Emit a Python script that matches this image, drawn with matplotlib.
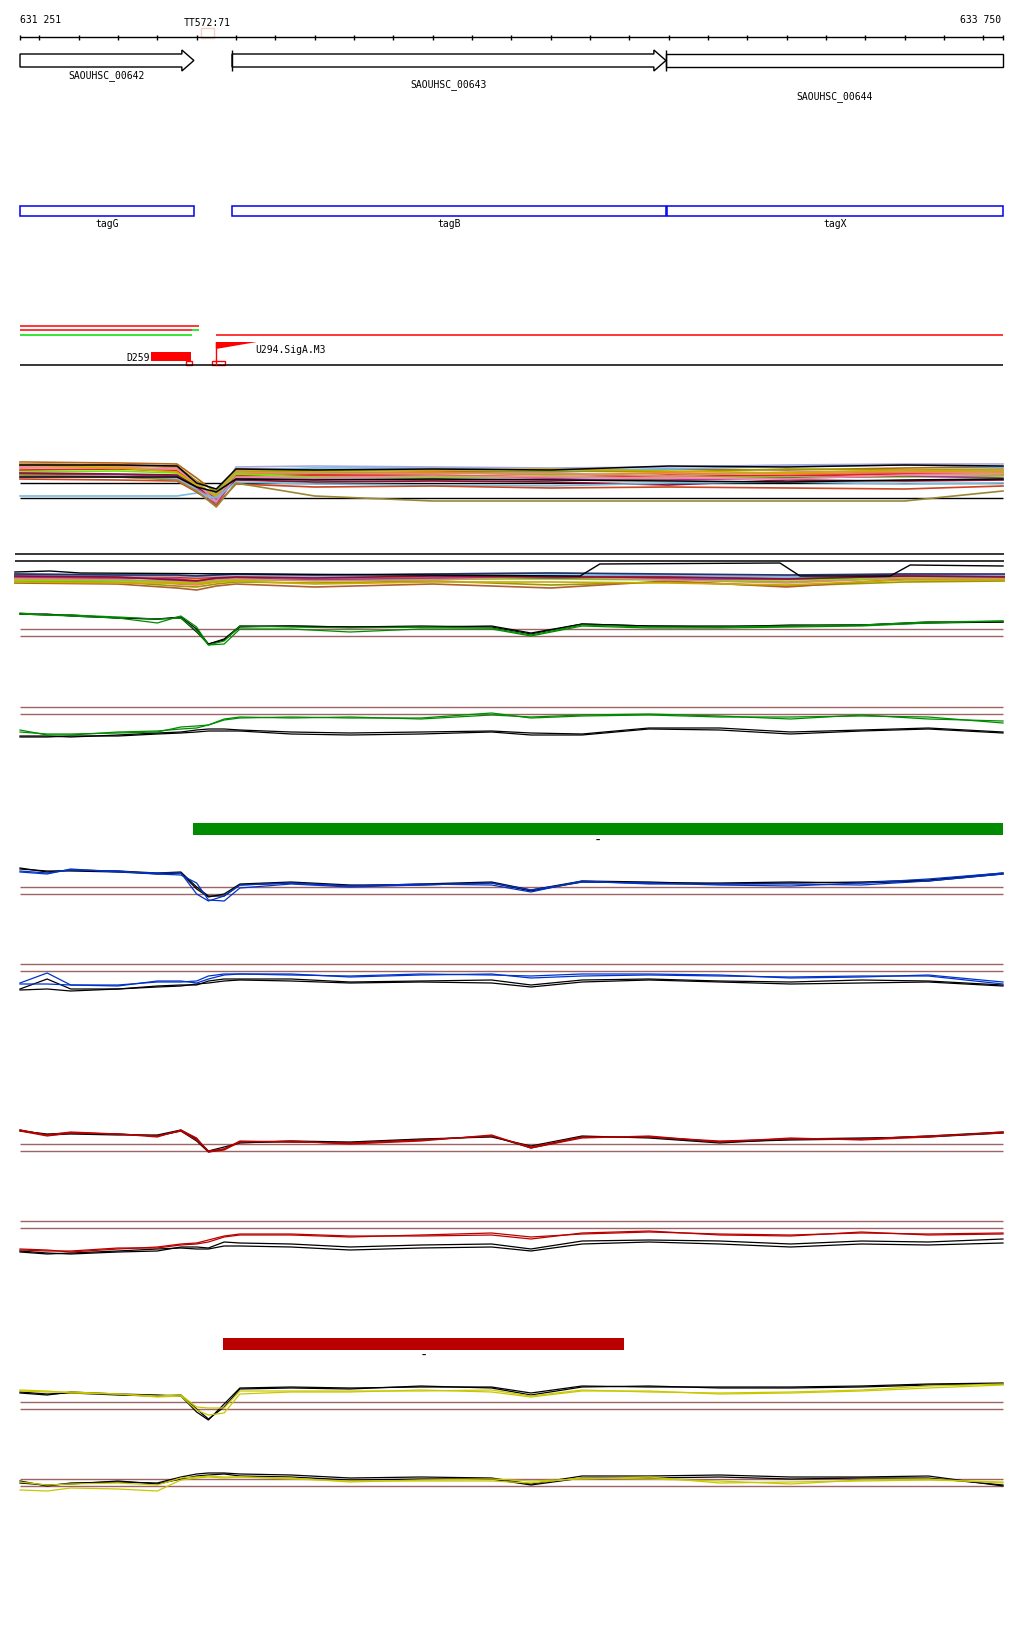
"""Genome browser view of the tagG / tagB / tagX locus, expression tracks below."""

import matplotlib

matplotlib.use("Agg")
import matplotlib.pyplot as plt
from matplotlib.patches import Polygon, Rectangle

# ---- window -------------------------------------------------------------
WIN_START = 631251
WIN_END = 633750
ruler_ticks = list(range(631300, 633701, 100))

# ---- annotation -----------------------------------------------------------
gene_names = ["SAOUHSC_00642", "SAOUHSC_00643", "SAOUHSC_00644"]
gene_starts = [631251, 631790, 632893]
gene_ends = [631693, 632893, 633750]
cds_names = ["tagG", "tagB", "tagX"]
cds_starts = [631251, 631790, 632896]
cds_ends = [631693, 632893, 633750]

term_label = "TT572:71"
term_start, term_end = 631711, 631744

# read segments above the TSS row
seg_starts = [631251, 631251, 631687, 631251, 631749]
seg_ends = [631705, 631687, 631705, 631687, 633750]
seg_colors = ["#ff0000", "#ff0000", "#00dd00", "#00dd00", "#ff0000"]
seg_rows = [0, 1, 1, 2, 2]

d259_start, d259_end = 631584, 631686
d259_box = (631673, 631688)
sig_pos = 631749
sig_flag_end = 631853
sig_box = (631739, 631772)

green_bar = (631691, 633750)
red_bar = (631767, 632786)

# ---- multi-sample track (top) --------------------------------------------
MC_KNOTS = [631251, 631500, 631650, 631700, 631750, 631800, 632000,
            632300, 632600, 632900, 633200, 633500, 633750]
mc_a_colors = ["#b5651d", "#9a9a00", "#f08030", "#f07860", "#e02020", "#66ee00",
               "#aa3399", "#66bbee", "#aaaadd", "#881133", "#cc9966", "#ee88aa",
               "#ccaa00", "#77bbdd", "#cc4422", "#998833"]
mc_a_values = [
    [4.2, 4.0, 3.8, 1.0, -2.0, 2.8, 2.6, 2.4, 2.2, 2.8, 2.6, 3.0, 3.2],
    [3.8, 3.6, 3.4, 0.4, -1.6, 2.4, 2.2, 2.0, 2.4, 2.2, 2.8, 2.6, 2.8],
    [3.4, 3.8, 3.0, 0.0, -3.0, 2.0, 1.8, 2.2, 1.6, 2.0, 1.8, 2.2, 2.4],
    [3.0, 3.2, 2.6, -0.4, -4.6, 1.6, 1.4, 1.2, 1.8, 1.2, 1.6, 2.0, 2.0],
    [2.6, 2.8, 2.4, -0.2, -3.4, 1.4, 1.6, 1.6, 1.0, 1.6, 1.4, 1.8, 1.6],
    [2.2, 2.4, 2.0, -0.6, -2.6, 1.8, 1.2, 1.0, 1.4, 0.8, 1.2, 1.2, 1.4],
    [1.8, 1.6, 1.4, -1.2, -4.0, 1.0, 0.8, 0.6, 0.8, 0.6, 1.0, 1.4, 1.0],
    [1.4, 1.2, 0.8, -1.0, -2.2, 2.6, 3.0, 3.0, 2.6, 2.8, 3.4, 3.6, 3.2],
    [1.2, 1.4, 1.0, -1.4, -3.8, 3.2, 3.4, 3.2, 3.0, 3.2, 3.6, 3.8, 3.8],
    [2.0, 1.8, 1.6, -0.8, -3.2, 0.6, 0.2, 0.4, 0.2, -0.4, 0.6, 0.4, 0.6],
    [4.0, 3.4, 3.2, 0.2, -2.8, 2.2, 2.0, 1.8, 2.0, 1.4, 2.2, 2.4, 2.6],
    [3.2, 3.0, 2.8, -0.2, -3.6, 1.2, 1.0, 1.4, 1.2, 1.0, 0.8, 1.6, 1.8],
    [3.6, 3.0, 2.2, -0.4, -2.4, 2.6, 2.4, 2.6, 2.8, 2.4, 2.0, 2.6, 2.2],
    [-2.6, -2.6, -2.6, -2.0, -3.0, 0.2, -0.2, -0.4, -0.6, 0.0, 0.2, -0.2, 0.0],
    [0.8, 0.6, 0.4, -1.8, -4.4, -0.2, -0.8, -0.6, -1.0, -0.8, -1.0, -1.2, -0.6],
    [1.6, 1.2, 0.6, -1.6, -4.8, 0.0, -2.6, -3.6, -3.6, -3.6, -3.6, -3.6, -1.6],
]
mc_a_black = [
    [3.6, 3.6, 3.4, 0.0, -1.2, 2.8, 2.6, 2.8, 2.6, 3.4, 3.2, 3.6, 3.4],
    [1.2, 1.2, 1.2, -0.8, -1.8, 0.8, 0.6, 0.8, 0.6, 0.4, 0.2, 0.6, 0.8],
]
mc_a_refs = [0.0, -3.0]

# ---- multi-sample track (second) -------------------------------------------
MC_B_KNOTS = [631238, 631500, 631650, 631700, 631750, 631800, 632000,
              632300, 632600, 632900, 633200, 633500, 633753]
mc_b_colors = ["#f08030", "#9a9a00", "#f07860", "#e02020", "#66bbee", "#66ee00",
               "#aa3399", "#b06030", "#cc9966", "#aaaadd", "#ccaa00", "#881133",
               "#223366"]
mc_b_values = [
    [-3.0, -3.2, -3.4, -3.6, -3.4, -3.2, -3.4, -3.2, -3.0, -3.2, -3.4, -3.0, -3.2],
    [-4.0, -4.2, -5.0, -5.2, -4.6, -4.2, -4.4, -4.0, -4.8, -4.2, -5.0, -4.2, -4.0],
    [-3.4, -3.6, -4.6, -4.8, -4.2, -3.8, -3.6, -3.4, -3.0, -3.6, -4.2, -3.2, -3.4],
    [-2.8, -3.0, -3.2, -3.4, -3.2, -3.0, -3.0, -2.8, -3.0, -3.4, -3.0, -2.8, -3.0],
    [-2.6, -2.8, -3.0, -3.0, -2.8, -2.8, -3.2, -3.0, -2.8, -3.0, -3.2, -3.2, -3.4],
    [-3.8, -4.0, -4.2, -4.4, -4.0, -3.8, -3.8, -3.6, -3.6, -3.8, -3.8, -3.4, -3.6],
    [-3.2, -3.4, -3.6, -4.0, -3.6, -3.4, -3.8, -3.4, -3.4, -3.6, -3.6, -3.0, -2.8],
    [-4.4, -4.6, -5.4, -5.8, -5.0, -4.6, -5.2, -4.6, -5.4, -4.0, -5.2, -3.6, -3.8],
    [-3.6, -3.8, -4.0, -4.2, -3.8, -3.6, -4.0, -3.8, -3.2, -3.8, -4.4, -3.4, -3.6],
    [-2.8, -3.0, -3.0, -3.2, -3.0, -3.0, -3.0, -2.6, -2.4, -2.8, -3.0, -2.6, -2.8],
    [-4.2, -4.4, -4.4, -4.6, -4.2, -4.0, -4.6, -4.2, -4.2, -4.4, -4.8, -3.8, -3.8],
    [-3.0, -3.2, -3.8, -4.0, -3.4, -3.2, -3.4, -3.0, -3.2, -3.2, -3.6, -3.0, -3.2],
    [-2.6, -2.8, -2.8, -3.0, -2.8, -2.6, -2.8, -2.6, -2.4, -2.6, -2.8, -2.6, -2.6],
]
env_b_pos = [631238, 631327, 631404, 631861, 632675, 632725, 633183, 633234,
             633463, 633514, 633750]
env_b_val = [-2.2, -2.0, -2.4, -2.6, -3.0, -0.6, -0.4, -3.0, -3.0, -0.8, -1.0]
mc_b_refs = [1.4, 0.0]

# ---- paired condition tracks ------------------------------------------------
KNOTS = [631251, 631320, 631380, 631500, 631600, 631660, 631700, 631730, 631770,
         631810, 631940, 632090, 632270, 632450, 632550, 632680, 632850, 633030,
         633210, 633390, 633560, 633750]
thresholds = [0.0, -1.4]

c_black1 = [3.0, 2.8, 2.8, 2.2, 2.0, 2.4, 0.0, -3.0, -2.2, 0.4, 0.6, 0.4, 0.6, 0.4, -1.0, 1.0, 0.6, 0.4, 0.8, 0.8, 1.4, 1.4]
c_black2 = [3.0, 3.0, 2.6, 2.2, 2.0, 2.2, -0.6, -3.0, -2.0, 0.6, 0.6, 0.4, 0.4, 0.6, -0.8, 1.0, 0.6, 0.6, 0.6, 0.8, 1.2, 1.4]
c_green1 = [3.2, 2.8, 2.6, 2.2, 1.2, 2.6, 0.4, -3.2, -3.0, 0.0, 0.0, -0.6, 0.0, 0.0, -1.4, 0.6, 0.2, 0.2, 0.4, 0.6, 1.2, 1.6]
c_green2 = [3.0, 2.8, 2.8, 2.4, 2.0, 2.2, -0.4, -3.2, -2.4, 0.6, 0.4, 0.2, 0.4, 0.2, -1.2, 0.8, 0.4, 0.4, 0.6, 0.8, 1.4, 1.6]

d_black1 = [-6.0, -6.0, -5.8, -5.8, -5.4, -5.2, -5.0, -4.8, -4.8, -4.8, -5.4, -5.6, -5.4, -5.0, -5.6, -5.6, -4.4, -4.6, -5.4, -4.8, -4.4, -5.2]
d_black2 = [-5.8, -5.8, -6.0, -5.6, -5.2, -5.0, -4.6, -4.4, -4.4, -4.6, -5.0, -5.2, -5.0, -4.8, -5.2, -5.4, -4.2, -4.2, -5.0, -4.6, -4.2, -5.0]
d_green1 = [-5.0, -5.4, -5.4, -5.2, -5.0, -4.0, -3.8, -3.6, -2.6, -2.2, -2.0, -2.2, -2.2, -1.2, -2.2, -1.8, -1.6, -2.0, -2.0, -1.8, -2.0, -3.2]
d_green2 = [-4.6, -5.6, -5.6, -5.0, -4.8, -4.4, -4.2, -3.6, -2.4, -2.0, -2.2, -2.0, -2.4, -1.6, -2.0, -1.6, -1.4, -1.8, -2.4, -1.6, -2.4, -2.8]

e_black1 = [3.8, 3.0, 3.4, 3.2, 2.8, 3.0, 0.0, -1.8, -1.8, 0.4, 0.8, 0.2, 0.6, 1.0, -0.6, 1.2, 1.0, 0.6, 0.8, 1.0, 1.4, 2.8]
e_black2 = [3.6, 3.2, 3.2, 3.0, 2.6, 2.8, -0.4, -2.0, -1.4, 0.6, 1.0, 0.4, 0.4, 0.8, -0.8, 1.0, 0.8, 0.8, 1.0, 0.8, 1.2, 2.6]
e_blue1 = [3.2, 2.8, 3.4, 3.2, 2.6, 2.4, 0.8, -2.6, -2.8, -0.2, 0.6, 0.0, 0.4, 0.8, -0.6, 1.0, 0.8, 0.4, 0.2, 0.8, 1.6, 2.8]
e_blue2 = [3.0, 2.6, 3.6, 3.0, 2.8, 2.8, -1.4, -2.8, -1.8, 0.4, 0.8, 0.2, 0.6, 0.4, -1.0, 1.2, 0.6, 0.6, 0.6, 0.4, 1.2, 2.6]

f_black1 = [-5.0, -3.0, -5.0, -5.0, -4.4, -4.2, -4.2, -3.4, -3.0, -3.0, -3.0, -3.6, -3.4, -3.2, -4.2, -3.2, -3.0, -3.4, -3.6, -3.2, -3.4, -4.2]
f_black2 = [-5.2, -5.0, -5.4, -5.0, -4.6, -4.4, -4.0, -3.8, -3.4, -3.2, -3.4, -3.8, -3.6, -3.8, -4.6, -3.6, -3.2, -3.6, -4.0, -3.8, -3.6, -4.4]
f_blue1 = [-3.8, -1.8, -4.2, -4.2, -3.6, -3.6, -3.4, -2.4, -2.0, -2.0, -2.0, -2.6, -2.2, -2.0, -2.8, -2.4, -2.2, -2.4, -2.6, -2.4, -2.4, -4.0]
f_blue2 = [-4.0, -4.0, -4.2, -4.4, -3.4, -3.4, -3.8, -3.0, -2.2, -2.0, -2.2, -2.4, -2.0, -2.2, -2.4, -2.0, -2.0, -2.2, -2.8, -2.6, -2.2, -3.6]

g_black1 = [2.8, 1.8, 2.0, 1.8, 1.8, 2.8, 1.0, -1.4, -0.6, 0.2, 0.6, 0.4, 1.0, 1.4, -0.4, 1.6, 1.2, 0.2, 1.0, 1.2, 1.4, 2.2]
g_black2 = [2.6, 2.0, 2.2, 2.0, 1.6, 2.6, 0.6, -1.6, -1.0, 0.4, 0.4, 0.2, 0.8, 1.6, -0.8, 1.4, 1.4, 0.4, 0.8, 1.0, 1.6, 2.4]
g_red1 = [2.8, 1.8, 2.4, 2.0, 1.6, 2.6, 0.8, -1.4, -1.0, 0.6, 0.4, 0.2, 0.8, 1.6, -0.6, 1.4, 1.4, 0.6, 1.0, 1.0, 1.6, 2.2]
g_red2 = [2.6, 1.6, 2.2, 2.0, 1.4, 2.8, 1.2, -1.6, -1.2, 0.4, 0.6, 0.0, 0.6, 1.8, -0.8, 1.2, 1.6, 0.4, 1.2, 0.8, 1.4, 2.4]

h_black1 = [-6.0, -6.4, -6.6, -6.2, -6.0, -5.2, -5.2, -5.4, -4.2, -4.4, -4.6, -5.2, -4.8, -4.6, -5.6, -4.0, -3.8, -4.0, -4.6, -4.0, -4.2, -3.6]
h_black2 = [-6.2, -6.6, -6.4, -6.0, -5.6, -5.4, -5.6, -5.6, -5.0, -5.0, -5.2, -5.8, -5.4, -5.2, -6.0, -4.6, -4.2, -4.6, -5.2, -4.6, -4.8, -4.4]
h_red1 = [-5.8, -6.0, -6.0, -5.4, -5.4, -4.8, -4.6, -4.2, -3.2, -2.8, -2.8, -3.2, -2.8, -2.4, -3.2, -2.6, -2.2, -2.6, -2.8, -2.4, -2.6, -2.4]
h_red2 = [-5.6, -5.8, -6.2, -5.6, -5.2, -4.6, -4.4, -3.8, -3.0, -2.6, -2.6, -3.0, -3.0, -2.8, -3.6, -2.4, -2.0, -2.8, -3.0, -2.2, -2.8, -2.6]

i_black1 = [1.8, 1.4, 2.0, 1.6, 1.4, 1.2, -2.0, -3.6, -0.4, 2.8, 3.0, 2.8, 3.0, 3.0, 1.8, 3.2, 3.0, 3.0, 3.0, 3.2, 3.6, 3.8]
i_black2 = [2.0, 1.6, 1.8, 1.4, 1.2, 1.4, -1.4, -3.4, -1.0, 2.6, 2.8, 2.6, 3.2, 2.8, 1.4, 3.0, 3.2, 2.8, 2.8, 3.0, 3.4, 3.6]
i_yel1 = [2.2, 2.0, 2.0, 1.6, 1.2, 1.4, -1.0, -1.2, -1.2, 2.2, 2.2, 2.2, 2.2, 2.4, 1.2, 2.4, 2.0, 1.8, 2.0, 2.4, 3.2, 3.6]
i_yel2 = [2.4, 2.2, 1.8, 1.6, 1.0, 1.2, -1.6, -2.6, -2.2, 1.6, 2.0, 2.0, 2.4, 2.0, 1.0, 2.2, 2.2, 1.6, 1.8, 2.2, 2.8, 3.4]

j_black1 = [-0.4, -1.4, -0.8, -0.6, -0.8, 0.4, 1.0, 1.2, 1.2, 1.0, 0.8, 0.2, 0.4, 0.2, -1.0, 0.6, 0.6, 0.8, 0.4, 0.4, 0.6, -1.4]
j_black2 = [-0.8, -1.2, -1.0, -0.4, -1.0, 0.0, 0.6, 0.8, 1.0, 0.6, 0.4, -0.2, 0.0, 0.0, -1.2, 0.2, 0.2, 0.4, 0.0, 0.2, 0.2, -1.2]
j_yel1 = [-0.6, -1.2, -1.0, -0.8, -1.2, 0.2, 0.4, 0.6, 0.4, 0.4, 0.0, -0.4, -0.4, -0.4, -0.8, 0.2, 0.0, -0.4, -1.0, -0.2, 0.0, -0.8]
j_yel2 = [-2.2, -2.4, -1.8, -2.0, -2.4, -0.2, 0.2, 0.4, 0.2, 0.4, 0.2, -0.6, -0.2, 0.0, -0.4, 0.0, 0.4, -0.8, -0.6, -0.4, -0.2, -0.6]

# ---- layout -----------------------------------------------------------------
W, H = 1024, 1640
LEFT_PX, RIGHT_PX = 20, 1003
BP_PER_PX = (WIN_END - WIN_START) / (RIGHT_PX - LEFT_PX)
XLIM = (WIN_START - LEFT_PX * BP_PER_PX, WIN_START + (W - LEFT_PX) * BP_PER_PX)
PX_PER_UNIT = 5.0
ROSY = "#9c6464"
FONT = dict(family="DejaVu Sans Mono", fontsize=7, color="black")

fig = plt.figure(figsize=(W / 100, H / 100), dpi=100)
feat = fig.add_axes([0, 0, 1, 1])
feat.set_xlim(*XLIM)
feat.set_ylim(H, 0)
feat.axis("off")

# ruler
feat.hlines(38, WIN_START, WIN_END, color="black", lw=1)
feat.vlines([WIN_START] + ruler_ticks + [WIN_END], 35.5, 40.5, color="black", lw=1)
feat.text(WIN_START, 20, "631 251", ha="left", va="center", **FONT)
feat.text(WIN_END - 2 * BP_PER_PX, 20, "633 750", ha="right", va="center", **FONT)
feat.add_patch(Rectangle((term_start, 29), term_end - term_start, 10, fill=False,
                         edgecolor="#f6d0c8", lw=1))
feat.text((term_start + term_end) / 2, 23, term_label, ha="center", va="center", **FONT)

# genes
head = 12 * BP_PER_PX
gene_label_y = [76, 85, 97]
for name, s, e, ly in zip(gene_names, gene_starts, gene_ends, gene_label_y):
    if e < WIN_END:
        pts = [(s, 55), (e - head, 55), (e - head, 51), (e, 61.5),
               (e - head, 72), (e - head, 68), (s, 68)]
    else:
        pts = [(s, 55), (e, 55), (e, 68), (s, 68)]
    feat.add_patch(Polygon(pts, closed=True, fill=False, edgecolor="black", lw=1))
    if s > WIN_START:
        feat.vlines(s, 51, 72, color="black", lw=1)
    feat.text((s + e) / 2, ly, name, ha="center", va="center", **FONT)

# CDS boxes
for name, s, e in zip(cds_names, cds_starts, cds_ends):
    feat.add_patch(Rectangle((s, 207), e - s, 10, fill=False, edgecolor="#0000ee", lw=1.1))
    feat.text((s + e) / 2, 224, name, ha="center", va="center", **FONT)

# read segments, terminator and promoter marks
seg_row_y = [327, 331, 336]
for s, e, c, r in zip(seg_starts, seg_ends, seg_colors, seg_rows):
    feat.hlines(seg_row_y[r], s, e, color=c, lw=1.1)
feat.hlines(366, WIN_START, WIN_END, color="black", lw=1.1)
feat.add_patch(Rectangle((d259_start, 353), d259_end - d259_start, 9, color="#ff0000", lw=0))
feat.add_patch(Rectangle((d259_box[0], 362), d259_box[1] - d259_box[0], 4, fill=False,
                         edgecolor="#ff0000", lw=1))
feat.text(d259_start - BP_PER_PX, 358, "D259", ha="right", va="center", **FONT)
feat.vlines(sig_pos, 343, 366, color="#ff0000", lw=1)
feat.add_patch(Polygon([(sig_pos, 343), (sig_flag_end, 343), (sig_pos, 350)], closed=True,
                       color="#ff0000", lw=0))
feat.add_patch(Rectangle((sig_box[0], 362), sig_box[1] - sig_box[0], 4, fill=False,
                         edgecolor="#ff0000", lw=1))
feat.text(sig_flag_end - 2 * BP_PER_PX, 350, "U294.SigA.M3", ha="left", va="center", **FONT)

# condition bars, each with its "-" strand label
for (s, e), c, y in [(green_bar, "#008c00", 824), (red_bar, "#bb0000", 1339)]:
    feat.add_patch(Rectangle((s, y), e - s, 12, color=c, lw=0))
    feat.text((s + e) / 2, y + 17, "-", ha="center", va="center",
              family="DejaVu Sans Mono", fontsize=10, color="black")


def track_axes(ref_px):
    ax = fig.add_axes([0, 1 - (ref_px + 40) / H, 1, 80 / H])
    ax.set_xlim(*XLIM)
    ax.set_ylim(-40 / PX_PER_UNIT, 40 / PX_PER_UNIT)
    ax.axis("off")
    ax.patch.set_visible(False)
    return ax


# multi-sample tracks
ax = track_axes(484)
ax.hlines(mc_a_refs, WIN_START, WIN_END, color="black", lw=1)
for vals, col in zip(mc_a_values, mc_a_colors):
    ax.plot(MC_KNOTS, vals, color=col, lw=1.2)
for vals in mc_a_black:
    ax.plot(MC_KNOTS, vals, color="black", lw=1.1)

ax = track_axes(562)
ax.hlines(mc_b_refs, MC_B_KNOTS[0], MC_B_KNOTS[-1], color="black", lw=1.1)
for vals, col in zip(mc_b_values, mc_b_colors):
    ax.plot(MC_B_KNOTS, vals, color=col, lw=1.2)
ax.plot(env_b_pos, env_b_val, color="black", lw=1)

# paired tracks
paired = [
    (630, "#008c00", [c_black1, c_black2], [c_green1, c_green2]),
    (708, "#008c00", [d_black1, d_black2], [d_green1, d_green2]),
    (888, "#0033cc", [e_black1, e_black2], [e_blue1, e_blue2]),
    (965, "#0033cc", [f_black1, f_black2], [f_blue1, f_blue2]),
    (1145, "#bb0000", [g_black1, g_black2], [g_red1, g_red2]),
    (1222, "#bb0000", [h_black1, h_black2], [h_red1, h_red2]),
    (1403, "#c8c800", [i_black1, i_black2], [i_yel1, i_yel2]),
    (1480, "#c8c800", [j_black1, j_black2], [j_yel1, j_yel2]),
]
for ref_px, col, blacks, colored in paired:
    ax = track_axes(ref_px)
    ax.hlines(thresholds, WIN_START, WIN_END, color=ROSY, lw=1)
    for vals in blacks:
        ax.plot(KNOTS, vals, color="black", lw=0.9)
    for vals in colored:
        ax.plot(KNOTS, vals, color=col, lw=0.9)

fig.savefig("out.png", dpi=100, facecolor="white")
